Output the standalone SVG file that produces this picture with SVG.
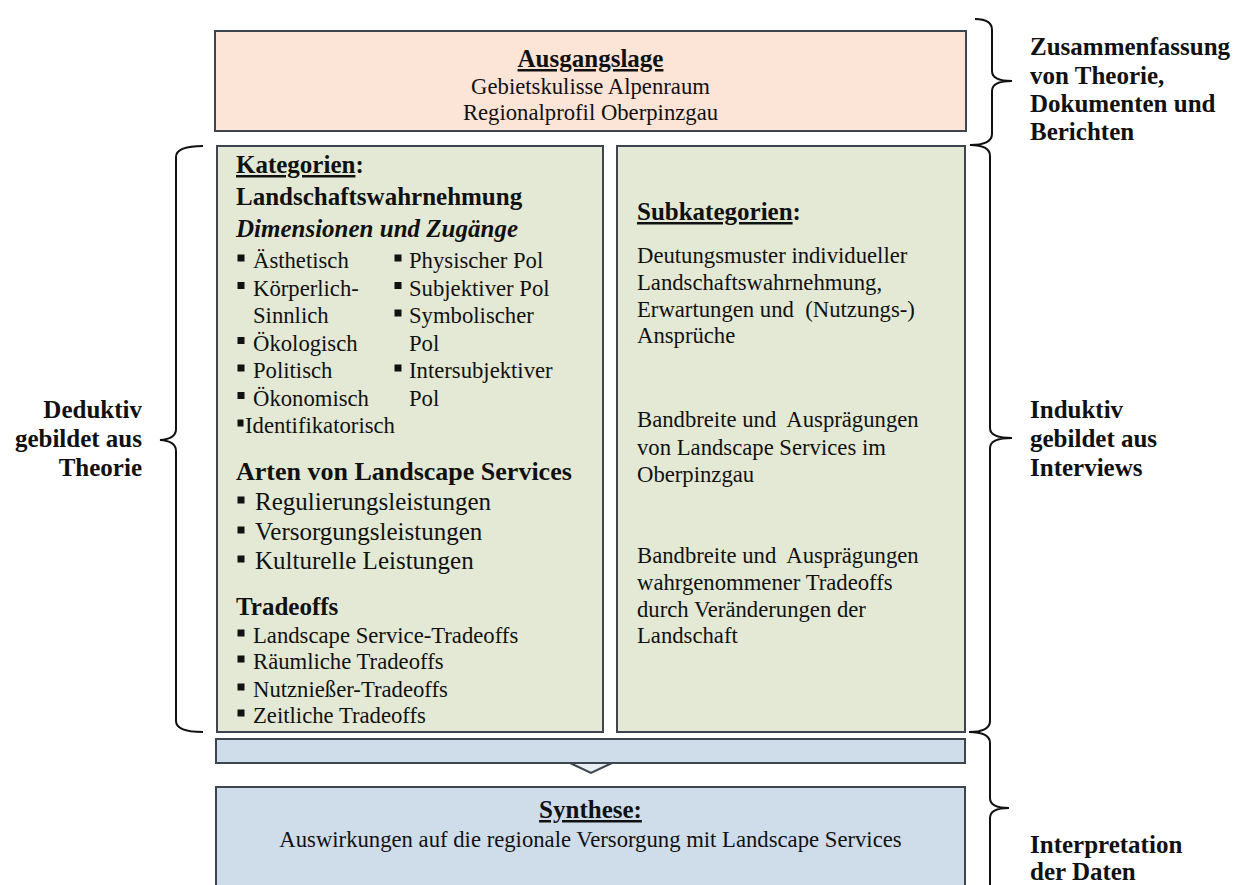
<svg xmlns="http://www.w3.org/2000/svg" width="1240" height="885" viewBox="0 0 1240 885">
<defs>
<style>
text{font-family:"Liberation Serif","Times New Roman",serif;fill:#111}
.box{stroke:#3d4650;stroke-width:2}
.peach{fill:#fce4d6}
.green{fill:#e3e9d5}
.blue{fill:#cfdce9}
.hd{font-size:25px;font-weight:bold}
.hi{font-size:25px;font-weight:bold;font-style:italic}
.tx{font-size:22.7px}
.tx25{font-size:25px}
.u{text-decoration:underline}
.mid{text-anchor:middle}
.end{text-anchor:end}
.brace{fill:none;stroke:#111;stroke-width:2}
.bul{fill:#111}
</style>
</defs>
<rect width="1240" height="885" fill="#ffffff"/>

<g id="ausgangslage">
<rect class="box peach" x="215" y="31" width="751" height="100"/>
<text class="hd mid u" x="590.5" y="67">Ausgangslage</text>
<text class="tx mid" x="590.5" y="94">Gebietskulisse Alpenraum</text>
<text class="tx mid" x="590.5" y="120">Regionalprofil Oberpinzgau</text>
</g>

<g id="kategorien">
<rect class="box green" x="217" y="146" width="386" height="586"/>
<text class="hd" x="236" y="173"><tspan class="u">Kategorien</tspan>:</text>
<text class="hd" x="236" y="205">Landschaftswahrnehmung</text>
<text class="hi" x="236" y="237">Dimensionen und Zugänge</text>
<g class="bul">
<rect x="237.5" y="254.5" width="7" height="7"/>
<rect x="237.5" y="282" width="7" height="7"/>
<rect x="237.5" y="337" width="7" height="7"/>
<rect x="237.5" y="364.5" width="7" height="7"/>
<rect x="237.5" y="392" width="7" height="7"/>
<rect x="237.5" y="419.5" width="6" height="7"/>
<rect x="394.5" y="254.5" width="7" height="7"/>
<rect x="394.5" y="282" width="7" height="7"/>
<rect x="394.5" y="309.5" width="7" height="7"/>
<rect x="394.5" y="364.5" width="7" height="7"/>
</g>
<text class="tx" x="253" y="268">Ästhetisch</text>
<text class="tx" x="253" y="295.5">Körperlich-</text>
<text class="tx" x="253" y="323">Sinnlich</text>
<text class="tx" x="253" y="350.5">Ökologisch</text>
<text class="tx" x="253" y="378">Politisch</text>
<text class="tx" x="253" y="405.5">Ökonomisch</text>
<text class="tx" x="245" y="433">Identifikatorisch</text>
<text class="tx" x="409" y="268">Physischer Pol</text>
<text class="tx" x="409" y="295.5">Subjektiver Pol</text>
<text class="tx" x="409" y="323">Symbolischer</text>
<text class="tx" x="409" y="350.5">Pol</text>
<text class="tx" x="409" y="378">Intersubjektiver</text>
<text class="tx" x="409" y="405.5">Pol</text>

<text class="hd" x="236" y="480" style="font-size:26px">Arten von Landscape Services</text>
<g class="bul">
<rect x="237.5" y="496.5" width="7" height="7"/>
<rect x="237.5" y="526.5" width="7" height="7"/>
<rect x="237.5" y="555.5" width="7" height="7"/>
</g>
<text class="tx25" x="255" y="510">Regulierungsleistungen</text>
<text class="tx25" x="255" y="540">Versorgungsleistungen</text>
<text class="tx25" x="255" y="569">Kulturelle Leistungen</text>

<text class="hd" x="236" y="615">Tradeoffs</text>
<g class="bul">
<rect x="237.5" y="629.5" width="7" height="7"/>
<rect x="237.5" y="655.5" width="7" height="7"/>
<rect x="237.5" y="683.5" width="7" height="7"/>
<rect x="237.5" y="709.5" width="7" height="7"/>
</g>
<text class="tx" x="253" y="643">Landscape Service-Tradeoffs</text>
<text class="tx" x="253" y="669">Räumliche Tradeoffs</text>
<text class="tx" x="253" y="697">Nutznießer-Tradeoffs</text>
<text class="tx" x="253" y="723">Zeitliche Tradeoffs</text>
</g>

<g id="subkategorien">
<rect class="box green" x="617" y="146" width="348" height="586"/>
<text class="hd" x="637" y="220"><tspan class="u">Subkategorien</tspan>:</text>
<text class="tx" x="637" y="263">Deutungsmuster individueller</text>
<text class="tx" x="637" y="290">Landschaftswahrnehmung,</text>
<text class="tx" x="637" y="317" xml:space="preserve">Erwartungen und  (Nutzungs-)</text>
<text class="tx" x="637" y="343">Ansprüche</text>
<text class="tx" x="637" y="427" xml:space="preserve">Bandbreite und  Ausprägungen</text>
<text class="tx" x="637" y="455">von Landscape Services im</text>
<text class="tx" x="637" y="482">Oberpinzgau</text>
<text class="tx" x="637" y="563" xml:space="preserve">Bandbreite und  Ausprägungen</text>
<text class="tx" x="637" y="590">wahrgenommener Tradeoffs</text>
<text class="tx" x="637" y="617">durch Veränderungen der</text>
<text class="tx" x="637" y="643">Landschaft</text>
</g>

<g id="uebergang">
<rect class="box blue" x="216" y="739" width="749" height="24"/>
<polygon class="box" points="570,763 612,763 591,773" fill="#e9eff5"/>
</g>

<g id="synthese">
<rect class="box blue" x="216" y="787" width="749" height="120"/>
<text class="hd mid u" x="590.5" y="818">Synthese:</text>
<text class="tx mid" x="590.5" y="847">Auswirkungen auf die regionale Versorgung mit Landscape Services</text>
</g>

<g id="label-zusammenfassung">
<text class="hd" x="1030" y="55">Zusammenfassung</text>
<text class="hd" x="1030" y="84">von Theorie,</text>
<text class="hd" x="1030" y="112">Dokumenten und</text>
<text class="hd" x="1030" y="140">Berichten</text>
</g>
<g id="label-deduktiv">
<text class="hd end" x="142" y="418">Deduktiv</text>
<text class="hd end" x="142" y="447">gebildet aus</text>
<text class="hd end" x="142" y="476">Theorie</text>
</g>
<g id="label-induktiv">
<text class="hd" x="1030" y="418">Induktiv</text>
<text class="hd" x="1030" y="447">gebildet aus</text>
<text class="hd" x="1030" y="476">Interviews</text>
</g>
<g id="label-interpretation">
<text class="hd" x="1030" y="853">Interpretation</text>
<text class="hd" x="1030" y="880">der Daten</text>
</g>

<g id="connectors">
<path class="brace" d="M 975 19 Q 992 19 992 30 L 992 71 Q 992 81 1012 81 Q 992 81 992 91 L 992 134 Q 992 145 970 145"/>
<path class="brace" d="M 970 145 Q 990 145 990 156 L 990 428 Q 990 438 1012 438 Q 990 438 990 448 L 990 721 Q 990 732 969 732"/>
<path class="brace" d="M 969 732 Q 990 732 990 743 L 990 798 Q 990 808 1009 808 Q 990 808 990 818 L 990 890"/>
<path class="brace" d="M 203 146 Q 176 146 176 157 L 176 429 Q 176 439 160 440 Q 176 441 176 451 L 176 721 Q 176 732 203 732"/>
</g>
</svg>
